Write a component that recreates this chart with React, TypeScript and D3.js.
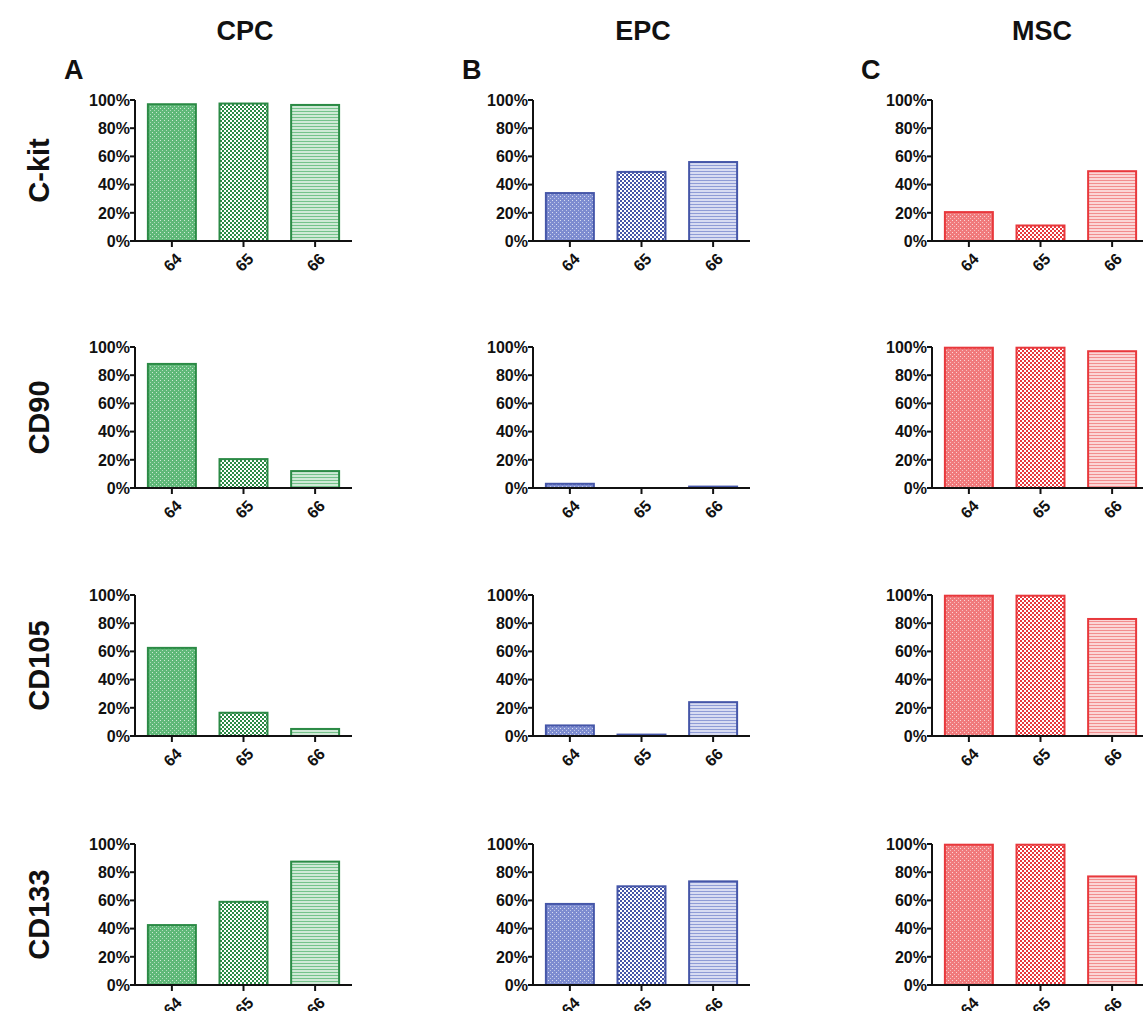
import React from 'react';
import * as d3 from 'd3';

// sample ids on the x axis
const samples = ['64', '65', '66'];
const cellTypes = ['CPC', 'EPC', 'MSC'];
const panelLetters = ['A', 'B', 'C'];
const markers = ['C-kit', 'CD90', 'CD105', 'CD133'];
const yTicks = [0, 20, 40, 60, 80, 100];

// percent positive, one row per marker, one array per cell type
const cpcValues = [
  [97, 97.5, 96.5],
  [88, 20.5, 12],
  [62.5, 16.5, 5],
  [42.5, 59, 87.5],
];
const epcValues = [
  [34, 49, 56],
  [3, 0, 1],
  [7.5, 1, 24],
  [57.5, 70, 73.5],
];
const mscValues = [
  [20.5, 11, 49.5],
  [99.5, 99.5, 97],
  [99.5, 99.5, 83],
  [99.5, 99.5, 77],
];

const palette = [
  { stroke: '#2b8a45', fill: '#5fb878', light: '#cfe9d6' },
  { stroke: '#4556a8', fill: '#7d8cd0', light: '#d8dcf2' },
  { stroke: '#e8383c', fill: '#f07a7c', light: '#fbd6d6' },
];

const colLeft = [135, 533, 932];
const rowTop = [100, 347, 595, 844];
const plotW = 217;
const plotH = 141;
const font = '"Liberation Sans", Arial, sans-serif';

const Patterns = () => (
  <defs>
    {palette.map((c, i) => (
      <React.Fragment key={i}>
        <pattern id={`grid-${i}`} width={4} height={4} patternUnits="userSpaceOnUse">
          <rect width={4} height={4} fill={c.fill} />
          <rect x={0} y={0} width={1} height={1} fill="#ffffff" opacity={0.7} />
          <rect x={2} y={2} width={1} height={1} fill="#ffffff" opacity={0.5} />
        </pattern>
        <pattern id={`check-${i}`} width={4} height={4} patternUnits="userSpaceOnUse">
          <rect width={4} height={4} fill="#ffffff" />
          <rect x={0} y={0} width={2} height={2} fill={c.stroke} />
          <rect x={2} y={2} width={2} height={2} fill={c.stroke} />
        </pattern>
        <pattern id={`lines-${i}`} width={4} height={3} patternUnits="userSpaceOnUse">
          <rect width={4} height={3} fill={c.light} />
          <rect x={0} y={0} width={4} height={1} fill={c.fill} opacity={0.8} />
        </pattern>
      </React.Fragment>
    ))}
  </defs>
);

const patternFor = (col: number, i: number) =>
  `url(#${['grid', 'check', 'lines'][i]}-${col})`;

const Panel = ({ col, row, values }: { col: number; row: number; values: number[] }) => {
  const x0 = colLeft[col];
  const y0 = rowTop[row];
  const x = d3.scaleBand<string>().domain(samples).range([x0, x0 + plotW])
    .paddingInner(0.33).paddingOuter(0.18);
  const y = d3.scaleLinear().domain([0, 100]).range([y0 + plotH, y0]);
  const c = palette[col];
  const base = y(0);

  return (
    <g>
      {values.map((v, i) => (
        <rect
          key={i}
          x={x(samples[i])}
          y={y(v)}
          width={x.bandwidth()}
          height={Math.max(base - y(v), 0)}
          fill={patternFor(col, i)}
          stroke={c.stroke}
          strokeWidth={2}
        />
      ))}
      {/* y axis */}
      <line x1={x0} x2={x0} y1={y(100)} y2={base} stroke="#111" strokeWidth={2} />
      {yTicks.map(t => (
        <g key={t}>
          <line x1={x0 - 5} x2={x0} y1={y(t)} y2={y(t)} stroke="#111" strokeWidth={2} />
          <text x={x0 - 5} y={y(t)} dy="0.36em" textAnchor="end"
            fontFamily={font} fontWeight="bold" fontSize={16} fill="#111">
            {t}%
          </text>
        </g>
      ))}
      {/* x axis */}
      <line x1={x0 - 1} x2={x0 + plotW} y1={base} y2={base} stroke="#111" strokeWidth={2} />
      {samples.map(s => {
        const cx = (x(s) ?? 0) + x.bandwidth() / 2;
        return (
          <g key={s}>
            <line x1={cx} x2={cx} y1={base} y2={base + 6} stroke="#111" strokeWidth={2} />
            <text transform={`translate(${cx + 7},${base + 15}) rotate(-45)`} textAnchor="end"
              dy="0.35em" fontFamily={font} fontWeight="bold" fontSize={16} fill="#111">
              {s}
            </text>
          </g>
        );
      })}
    </g>
  );
};

export default function App() {
  const allValues = [cpcValues, epcValues, mscValues];
  return (
    <svg width={1143} height={1011} style={{ position: 'absolute', left: 0, top: 0, background: '#fff' }}>
      <Patterns />
      {cellTypes.map((t, i) => (
        <text key={t} x={colLeft[i] + 110} y={40} textAnchor="middle"
          fontFamily={font} fontWeight="bold" fontSize={27} fill="#111">
          {t}
        </text>
      ))}
      {panelLetters.map((l, i) => (
        <text key={l} x={colLeft[i] - 71} y={79} fontFamily={font}
          fontWeight="bold" fontSize={27} fill="#111">
          {l}
        </text>
      ))}
      {markers.map((m, r) => (
        <text key={m} transform={`translate(49,${rowTop[r] + plotH / 2}) rotate(-90)`}
          textAnchor="middle" fontFamily={font} fontWeight="bold" fontSize={29} fill="#111">
          {m}
        </text>
      ))}
      {allValues.map((rows, col) =>
        rows.map((vals, row) => <Panel key={`${col}-${row}`} col={col} row={row} values={vals} />)
      )}
    </svg>
  );
}
